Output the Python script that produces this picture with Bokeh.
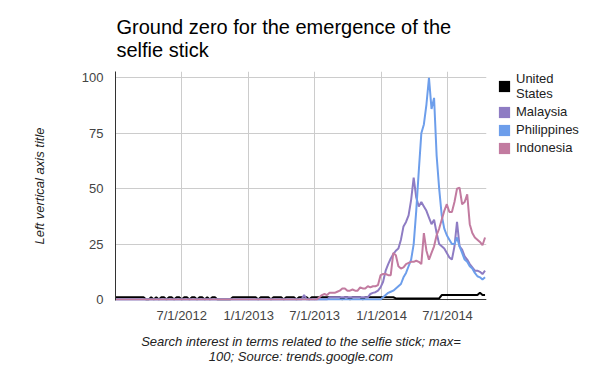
import math
from datetime import datetime
import pandas as pd
from bokeh.plotting import figure
from bokeh.layouts import row
from bokeh.models import (ColumnDataSource, FixedTicker, CustomJSTickFormatter, Range1d,
                          Span, Legend, LegendItem)
from bokeh.embed import file_html
from bokeh.resources import INLINE

# ---------------- data ----------------
title_text = "Ground zero for the emergence of the\nselfie stick"
x_title = "Search interest in terms related to the selfie stick; max=\n100; Source: trends.google.com"
y_title = "Left vertical axis title"
legend_labels = ["United\nStates", "Malaysia", "Philippines", "Indonesia"]
colors = ["#000000", "#8e7cc3", "#6d9eeb", "#c27ba0"]

weeks = pd.date_range("2012-01-01", periods=146, freq="7D")
x_ticks = ["2012-07-01", "2013-01-01", "2013-07-01", "2014-01-01", "2014-07-01"]
y_ticks = [0, 25, 50, 75, 100]

united_states = [
    1, 1, 1, 1, 1, 1, 1, 1, 1, 1,
    1, 1, 0, 0, 1, 0, 1, 0, 1, 1,
    0, 1, 1, 0, 1, 1, 0, 1, 1, 0,
    1, 1, 0, 1, 1, 0, 1, 0, 1, 1,
    0, 0, 0, 0, 0, 0, 1, 1, 1, 1,
    1, 1, 1, 1, 1, 1, 0, 1, 1, 1,
    1, 0, 1, 1, 1, 1, 0, 1, 1, 1,
    1, 0, 1, 1, 1, 1, 0, 1, 1, 1,
    1, 1, 1, 1, 1, 1, 1, 1, 1, 0,
    1, 1, 0, 1, 1, 1, 1, 0, 1, 1,
    1, 1, 1, 1, 1, 1, 1, 1, 1, 1,
    0.5, 0.5, 0.5, 0.5, 0.5, 0.5, 0.5, 0.5, 0.5, 0.5,
    0.5, 0.5, 0.5, 0.5, 0.5, 0.5, 0.5, 0.5, 2, 2,
    2, 2, 2, 2, 2, 2, 2, 2, 2, 2,
    2, 2, 2, 3, 2, 2,
]
malaysia = [
    0, 0, 0, 0, 0, 0, 0, 0, 0, 0,
    0, 0, 0, 0, 0, 0, 0, 0, 0, 0,
    0, 0, 0, 0, 0, 0, 0, 0, 0, 0,
    0, 0, 0, 0, 0, 0, 0, 0, 0, 0,
    0, 0, 0, 0, 0, 0, 0, 0, 0, 0,
    0, 0, 0, 0, 0, 0, 0, 0, 0, 0,
    0, 0, 0, 0, 0, 0, 0, 0, 0, 0,
    0, 0, 0, 0, 2, 0, 0, 0, 0, 0,
    0, 0, 0, 0, 1, 1, 1, 1, 1, 1,
    1, 1, 1, 1, 1, 1, 1, 1, 1, 1,
    2.5, 3, 3.3, 4, 5.5, 8, 13, 16, 18.5, 20.5,
    22, 23, 27, 33, 35, 38, 45, 55, 46, 42,
    44, 42, 40, 37, 34, 36, 30, 25, 24, 23,
    21, 19, 18, 24, 35, 24, 22.5, 19.5, 18, 16,
    14.5, 13, 13, 12.5, 11.5, 13,
]
philippines = [
    0, 0, 0, 0, 0, 0, 0, 0, 0, 0,
    0, 0, 0, 0, 0, 0, 0, 0, 0, 0,
    0, 0, 0, 0, 0, 0, 0, 0, 0, 0,
    0, 0, 0, 0, 0, 0, 0, 0, 0, 0,
    0, 0, 0, 0, 0, 0, 0, 0, 0, 0,
    0, 0, 0, 0, 0, 0, 0, 0, 0, 0,
    0, 0, 0, 0, 0, 0, 0, 0, 0, 0,
    0, 0, 0, 0, 0, 0, 0, 0, 0, 0,
    0, 0, 0, 0, 0, 0, 0, 0, 0, 0,
    0, 0, 0, 0, 0, 0, 0, 0, 0, 0,
    0, 0, 0, 0, 0, 1, 2, 3, 3.5, 4,
    5, 6, 7, 10, 12, 15, 18, 25, 40, 58,
    75, 79, 88, 100, 86, 91, 65, 50, 38, 32,
    29, 27, 25, 25, 28, 24, 21, 18, 17, 15,
    14, 12, 10.5, 10, 9, 10,
]
indonesia = [
    0, 0, 0, 0, 0, 0, 0, 0, 0, 0,
    0, 0, 0, 0, 0, 0, 0, 0, 0, 0,
    0, 0, 0, 0, 0, 0, 0, 0, 0, 0,
    0, 0, 0, 0, 0, 0, 0, 0, 0, 0,
    0, 0, 0, 0, 0, 0, 0, 0, 0, 0,
    0, 0, 0, 0, 0, 0, 0, 0, 0, 0,
    0, 0, 0, 0, 0, 0, 0, 0, 0, 0,
    0, 0, 0, 0, 0, 0, 0, 0, 0, 0,
    1, 2, 2.5, 2, 3, 3, 3, 3.5, 4, 5,
    5, 4, 4, 4.5, 4, 4, 5.5, 5, 5, 6,
    5.5, 6, 6, 6.5, 11, 11.5, 11.5, 11, 11, 21,
    20, 15, 14, 14.5, 16, 16.5, 17, 17, 17.5, 17,
    16, 30, 22, 18, 21, 24, 29, 32, 36, 40,
    43, 39.5, 39.5, 44, 50, 50.5, 43, 44, 47.5, 34,
    30, 28, 27, 26, 24.5, 28,
]

# ---------------- main figure ----------------
FONT = "Liberation Sans"

p = figure(width=490, height=371, x_axis_type="datetime",
           output_backend="svg", toolbar_location=None,
           x_range=Range1d(start=datetime(2012, 1, 1), end=datetime(2014, 10, 16)),
           y_range=Range1d(start=-0.45, end=102.9),
           min_border_left=115, min_border_right=4,
           min_border_top=71, min_border_bottom=71)
p.outline_line_color = None
p.background_fill_color = "white"
p.border_fill_color = "white"

# title
p.title.text = title_text
p.title.text_font = FONT
p.title.text_font_size = "20px"
p.title.text_font_style = "normal"
p.title.text_color = "#000000"
p.title.align = "left"
p.title.offset = 1
p.title.text_line_height = 1.05
p.title.standoff = 20

src = ColumnDataSource(dict(week=weeks, us=united_states, my=malaysia,
                            ph=philippines, id=indonesia))

baseline = Span(location=0, dimension="width", line_color="#333333", line_width=1,
                level="underlay")
p.add_layout(baseline)

for key, col in zip(["us", "my", "ph", "id"], colors):
    p.line("week", key, source=src, line_color=col, line_width=2)

# axes
tick_ms = [pd.Timestamp(t).value // 10**6 for t in x_ticks]
p.xaxis.ticker = FixedTicker(ticks=tick_ms)
p.xaxis.formatter = CustomJSTickFormatter(code="""
    const d = new Date(tick);
    return (d.getUTCMonth() + 1) + '/' + d.getUTCDate() + '/' + d.getUTCFullYear();
""")
p.xaxis.axis_line_color = None
p.xaxis.major_tick_line_color = None
p.xaxis.minor_tick_line_color = None
p.xaxis.major_tick_out = 0
p.xaxis.major_tick_in = 0
p.xaxis.minor_tick_out = 0
p.xaxis.major_label_text_font = FONT
p.xaxis.major_label_text_font_size = "13px"
p.xaxis.major_label_text_color = "#444444"
p.xaxis.major_label_standoff = 7
p.xaxis.axis_label = x_title
p.xaxis.axis_label_text_font = FONT
p.xaxis.axis_label_text_font_size = "13px"
p.xaxis.axis_label_text_font_style = "italic"
p.xaxis.axis_label_text_color = "#222222"
p.xaxis.axis_label_text_line_height = 1.05
p.xaxis.axis_label_standoff = 8

p.yaxis.ticker = FixedTicker(ticks=y_ticks)
p.yaxis.axis_line_color = "#333333"
p.yaxis.major_tick_line_color = None
p.yaxis.minor_tick_line_color = None
p.yaxis.major_tick_out = 0
p.yaxis.major_tick_in = 0
p.yaxis.minor_tick_out = 0
p.yaxis.major_label_text_font = FONT
p.yaxis.major_label_text_font_size = "13px"
p.yaxis.major_label_text_color = "#444444"
p.yaxis.major_label_standoff = 12
p.yaxis.axis_label = y_title
p.yaxis.axis_label_text_font = FONT
p.yaxis.axis_label_text_font_size = "13px"
p.yaxis.axis_label_text_font_style = "italic"
p.yaxis.axis_label_text_color = "#222222"
p.yaxis.axis_label_standoff = 32

p.xgrid.grid_line_color = "#cccccc"
p.ygrid.grid_line_color = "#cccccc"

# ---------------- legend panel ----------------
lg = figure(width=110, height=371, output_backend="svg", toolbar_location=None,
            x_range=Range1d(0, 1), y_range=Range1d(0, 1),
            x_axis_location=None, y_axis_location=None,
            min_border_left=7, min_border_right=0, min_border_top=68, min_border_bottom=0)
lg.outline_line_color = None
lg.grid.visible = False
lg.background_fill_color = "white"
lg.border_fill_color = "white"

items = []
for lab, col in zip(legend_labels, colors):
    swatch = ColumnDataSource(dict(l=[5], r=[6], t=[6], b=[5]))  # outside the visible range
    q = lg.quad(left="l", right="r", top="t", bottom="b", source=swatch,
                fill_color=col, line_color=None)
    items.append(LegendItem(label=lab, renderers=[q]))

legend = Legend(items=items, location="top_left", padding=0, margin=0, spacing=3,
                glyph_width=14, glyph_height=14, label_standoff=5, label_height=14,
                label_text_font=FONT, label_text_font_size="13px",
                label_text_color="#222222", label_text_line_height=1.39,
                background_fill_alpha=0, border_line_color=None)
lg.add_layout(legend)

layout = row(p, lg, spacing=0)
open("out.html", "w").write(file_html(layout, INLINE))
